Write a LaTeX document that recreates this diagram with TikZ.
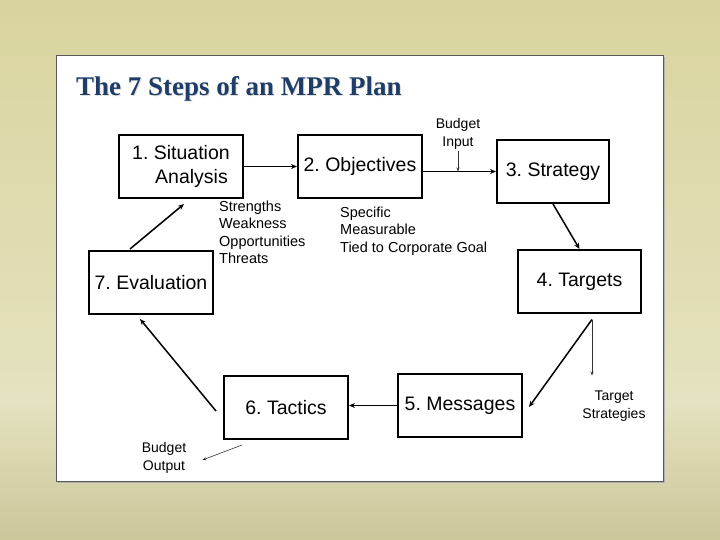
\documentclass[tikz,border=0pt]{standalone}
\usepackage{fontspec}
\setmainfont{Liberation Sans}
\newfontfamily\titlefont{Liberation Serif}
\usetikzlibrary{calc,arrows.meta}
\definecolor{bgtop}{HTML}{D9D49E}
\definecolor{bgmid}{HTML}{E4E2C0}
\definecolor{bgbot}{HTML}{CBC69A}
\definecolor{titleblue}{HTML}{1F3D66}
\tikzset{
  stepbox/.style={draw=black, line width=2pt, fill=white, minimum width=#1, minimum height=63pt, inner sep=0pt, font=\fontsize{19.5}{24}\selectfont},
  stepbox/.default=124pt,
  flow/.style={draw=black, line width=1.5pt, -{Stealth[length=6pt,width=5pt]}},
  thin/.style={draw=black!80, line width=0.6pt, -{Stealth[length=4pt,width=3pt]}},
  note/.style={font=\fontsize{14.5}{17.5}\selectfont, inner sep=0pt, align=left},
}
\begin{document}
\frenchspacing
\begin{tikzpicture}[x=1pt,y=-1pt]
\useasboundingbox (0,0) rectangle (720,540);
% background
\shade[top color=bgtop, bottom color=bgmid] (0,0) rectangle (720,400);
\shade[top color=bgmid, bottom color=bgbot] (0,400) rectangle (720,540);
% panel
\fill[black!30] (58,57) rectangle (665,483);
\draw[fill=white, draw=black!65, line width=0.8pt] (56,55) rectangle (663,481);
% title
\node[anchor=base west, inner sep=0pt, text=black!12, font=\titlefont\bfseries\fontsize{27}{30}\selectfont] at (77,97) {The 7 Steps of an MPR Plan};
\node[anchor=base west, inner sep=0pt, text=titleblue, font=\titlefont\bfseries\fontsize{27}{30}\selectfont] (title) at (76,96) {The 7 Steps of an MPR Plan};
% boxes
\node[stepbox, align=left] (b1) at (181,166.5) {1. Situation\\\hspace*{23pt}Analysis};
\node[stepbox] (b2) at (360,166.5) {2. Objectives};
\node[stepbox=112pt] (b3) at (553,171.5) {3. Strategy};
\node[stepbox=123pt] (b4) at (579.5,281.5) {4. Targets};
\node[stepbox] (b5) at (460,405.5) {5. Messages};
\node[stepbox] (b6) at (286,407.5) {6. Tactics};
\node[stepbox] (b7) at (151,282.5) {7. Evaluation};
% notes
\node[note, anchor=north west] (swot) at (219,200.5) {Strengths\\Weakness\\Opportunities\\Threats};
\node[note, anchor=north west] (spec) at (340,206.5) {Specific\\Measurable\\Tied to Corporate Goal};
\node[note, align=center, font=\fontsize{14}{18}\selectfont] (bi) at (458,134) {Budget\\Input};
\node[note, align=center, font=\fontsize{14}{18}\selectfont] (ts) at (614,406) {Target\\Strategies};
\node[note, align=center, font=\fontsize{14}{18}\selectfont] (bo) at (164,458) {Budget\\Output};
% flow connectors
\draw[flow] (b1.east) -- (b2.west);
\draw[flow] (b2.east |- b3.west) -- (b3.west);
\draw[flow] (b3.south) -- (b4.north);
\coordinate (t4) at ($(b4.south)+(12.5,5.5)$);
\draw[flow] (t4) -- ($(b5.east)+(6,1.5)$);
\draw[flow] (b5.west) -- (b5.west -| b6.east);
\draw[flow] ($(b6.west)+(-7,3.5)$) -- ($(b7.south)+(-11,4)$);
\draw[flow] ($(b7.north)+(-21,-1)$) -- ($(b1.south)+(3,5)$);
% thin connectors
\draw[thin, shorten <=1pt] (bi.south) -- (bi.south |- b3.west);
\draw[thin, shorten >=15pt] (t4) -- (t4 |- ts.north);
\draw[thin] ($(b6.south west)+(19,5)$) -- ($(bo.east)+(16,2)$);
\end{tikzpicture}
\end{document}
